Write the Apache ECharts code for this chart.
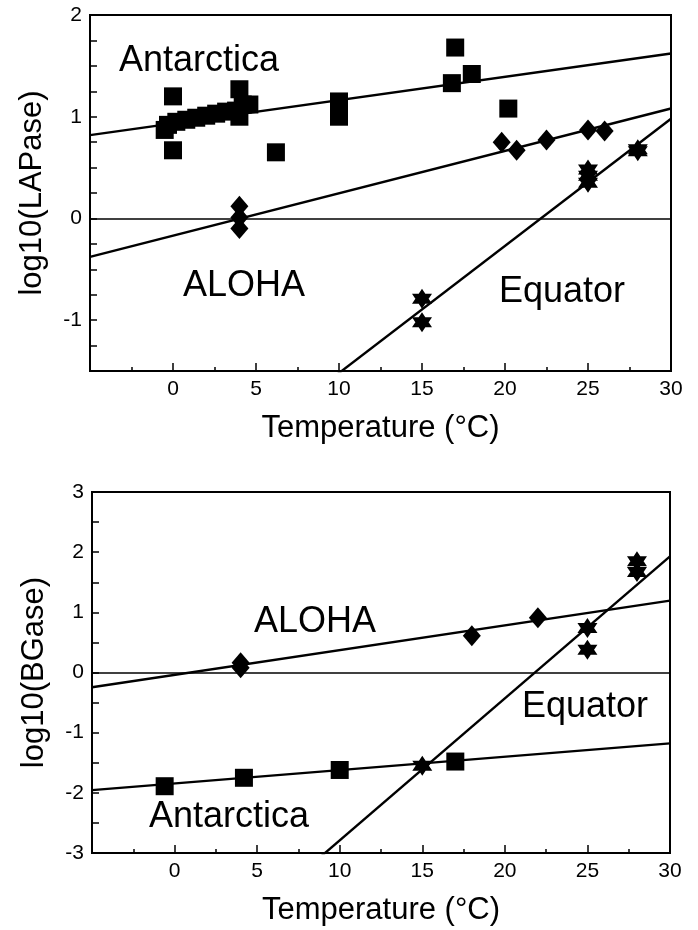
<!DOCTYPE html>
<html>
<head>
<meta charset="utf-8">
<script src="https://cdn.jsdelivr.net/npm/echarts@6/dist/echarts.min.js"></script>
<style>
html,body{margin:0;padding:0;background:#fff;}
#chart{width:698px;height:930px;}
</style>
</head>
<body>
<div id="chart"></div>
<script>
// temperature axis (same for both panels)
var tempMin = -5, tempMax = 30;
var tempTicks = [0, 5, 10, 15, 20, 25, 30];

// upper panel: log10(LAPase)
var lapAntT = [-0.5, -0.3, 0.2, 0.8, 1.4, 2, 2.6, 3.2, 3.8, 4, 4, 4.2, 4.6, 0, 0, 6.2, 10, 10, 16.8, 17, 18, 20.2];
var lapAntV = [0.87, 0.92, 0.95, 0.97, 0.99, 1.01, 1.03, 1.05, 1.06, 1.27, 1.0, 1.12, 1.12, 1.2, 0.67, 0.65, 1.15, 1.0, 1.33, 1.68, 1.42, 1.08];
var lapAloT = [4, 4, 4, 19.8, 20.7, 22.5, 25, 26];
var lapAloV = [0.12, 0.01, -0.1, 0.75, 0.67, 0.77, 0.87, 0.86];
var lapEquT = [15, 15, 25, 25, 25, 28, 28];
var lapEquV = [-0.79, -1.02, 0.48, 0.42, 0.35, 0.68, 0.66];
// regression fits [slope, intercept]
var lapAntFit = [0.0229, 0.934];
var lapAloFit = [0.0417, -0.17];
var lapEquFit = [0.125, -2.77];

// lower panel: log10(BGase)
var bgAntT = [-0.6, 4.2, 10, 17];
var bgAntV = [-1.89, -1.75, -1.62, -1.48];
var bgAloT = [4, 4, 18, 22];
var bgAloV = [0.16, 0.08, 0.61, 0.91];
var bgEquT = [15, 25, 25, 28, 28];
var bgEquV = [-1.55, 0.74, 0.38, 1.85, 1.67];
var bgAntFit = [0.0222, -1.844];
var bgAloFit = [0.0411, -0.039];
var bgEquFit = [0.236, -5.15];

var FONT = 'Liberation Sans, Arial, Helvetica, sans-serif';
var STAR = 'path://M10,0L18.66,15L1.34,15ZM10,20L1.34,5L18.66,5Z';

function pairs(xs, ys){
    var out = [];
    for(var i=0;i<xs.length;i++){
        out.push([xs[i], ys[i]]);
    }
    return out;
}

function points(idx, xs, ys, symbol, size){
    return {
        type:'scatter',
        xAxisIndex: idx,
        yAxisIndex: idx,
        symbol: symbol,
        symbolSize: size,
        itemStyle:{color:'#000', opacity:1},
        z: 3,
        silent: true,
        data: pairs(xs, ys)
    };
}

function fitLine(idx, fit){
    return {
        type:'line',
        xAxisIndex: idx,
        yAxisIndex: idx,
        showSymbol: false,
        symbol:'none',
        clip: true,
        silent: true,
        lineStyle:{color:'#000', width:2.4},
        data:[
            [tempMin, fit[0]*tempMin + fit[1]],
            [tempMax, fit[0]*tempMax + fit[1]]
        ]
    };
}

function zeroLine(idx){
    return {
        type:'line',
        xAxisIndex: idx,
        yAxisIndex: idx,
        data: [],
        silent: true,
        markLine:{
            symbol:'none',
            silent:true,
            animation:false,
            label:{show:false},
            lineStyle:{color:'#000', width:1.5, type:'solid'},
            data:[{yAxis:0}]
        }
    };
}

function xAxisOf(idx){
    return {
        type:'value',
        gridIndex: idx,
        min: tempMin,
        max: tempMax,
        interval: 5,
        name:'Temperature (°C)',
        nameLocation:'middle',
        nameGap: 42,
        nameTextStyle:{fontFamily:FONT, fontSize:31, color:'#000'},
        axisLine:{show:true, onZero:false, lineStyle:{color:'#000', width:2}},
        axisTick:{show:true, inside:true, length:8, lineStyle:{color:'#000', width:1.5}},
        minorTick:{show:true, splitNumber:2, length:4, lineStyle:{color:'#000', width:1.5}},
        splitLine:{show:false},
        axisLabel:{
            margin: 8,
            fontFamily: FONT,
            fontSize: 21,
            color:'#000',
            formatter:function(v){
                return tempTicks.indexOf(v) >= 0 ? String(v) : '';
            }
        }
    };
}

function yAxisOf(idx, name, min, max, step){
    return {
        type:'value',
        gridIndex: idx,
        min: min,
        max: max,
        interval: step,
        name: name,
        nameLocation:'middle',
        nameGap: 42,
        nameTextStyle:{fontFamily:FONT, fontSize:31, color:'#000'},
        axisLine:{show:true, onZero:false, lineStyle:{color:'#000', width:2}},
        axisTick:{show:true, inside:true, length:7, lineStyle:{color:'#000', width:1.5}},
        splitLine:{show:false},
        axisLabel:{
            margin: 8,
            fontFamily: FONT,
            fontSize: 21,
            color:'#000',
            formatter:function(v){
                return Math.abs(v - Math.round(v)) < 1e-6 ? String(Math.round(v)) : '';
            }
        }
    };
}

function label(text, x, y){
    return {
        type:'text',
        left: x,
        top: y,
        silent: true,
        style:{
            text: text,
            fontFamily: FONT,
            fontSize: 36,
            fill:'#000'
        }
    };
}

var chart = echarts.init(document.getElementById('chart'), null, {renderer:'canvas'});

var option = {
    animation: false,
    backgroundColor:'#fff',
    grid:[
        {left:90, top:15, width:581, height:356, show:true, borderColor:'#000', borderWidth:2, backgroundColor:'transparent'},
        {left:92, top:492, width:578, height:361, show:true, borderColor:'#000', borderWidth:2, backgroundColor:'transparent'}
    ],
    xAxis:[xAxisOf(0), xAxisOf(1)],
    yAxis:[
        yAxisOf(0, 'log10(LAPase)', -1.5, 2, 0.25),
        yAxisOf(1, 'log10(BGase)', -3, 3, 0.5)
    ],
    series:[
        zeroLine(0),
        fitLine(0, lapAntFit),
        fitLine(0, lapAloFit),
        fitLine(0, lapEquFit),
        points(0, lapAntT, lapAntV, 'rect', 18),
        points(0, lapAloT, lapAloV, 'diamond', [18, 21]),
        points(0, lapEquT, lapEquV, STAR, 20),

        zeroLine(1),
        fitLine(1, bgAntFit),
        fitLine(1, bgAloFit),
        fitLine(1, bgEquFit),
        points(1, bgAntT, bgAntV, 'rect', 18),
        points(1, bgAloT, bgAloV, 'diamond', [18, 21]),
        points(1, bgEquT, bgEquV, STAR, 20)
    ],
    graphic:[
        label('Antarctica', 119, 43),
        label('ALOHA', 183, 268),
        label('Equator', 499, 274),
        label('ALOHA', 254, 604),
        label('Equator', 522, 689),
        label('Antarctica', 149, 799)
    ]
};

chart.setOption(option);
</script>
</body>
</html>
